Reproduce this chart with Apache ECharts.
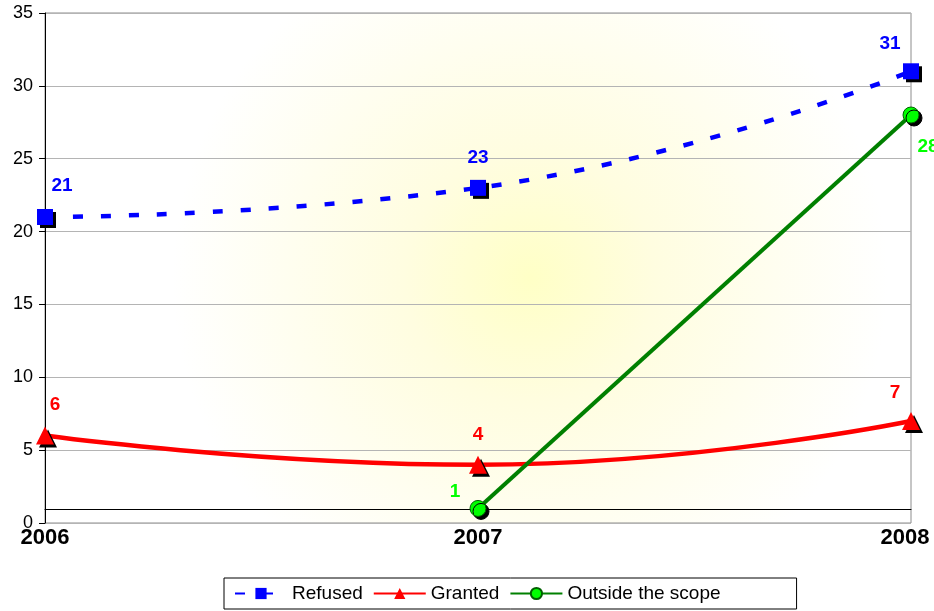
<!DOCTYPE html>
<html><head><meta charset="utf-8">
<script src="https://cdn.jsdelivr.net/npm/echarts@6/dist/echarts.min.js"></script>
<style>html,body{margin:0;padding:0;background:#fff}#c{width:934px;height:611px}</style>
</head><body><div id="c"></div>
<script>
const categories = ['2006', '2007', '2008'];
const refused = [21, 23, 31];
const granted = [6, 4, 7];
const outside = [null, 1, 28];
const yTicks = [0, 5, 10, 15, 20, 25, 30, 35];

const refusedOff = [[17, -31], [0, -30], [-21, -28]];
const grantedOff = [[10, -31], [0, -30], [-16, -28]];
const outsideOff = [[0, 0], [-23, -17], [17, 32]];

function mk(vals, offs) {
  return vals.map((v, i) => ({
    value: v,
    label: { offset: offs[i] }
  }));
}
const shadow = { shadowColor: '#000', shadowOffsetX: 3, shadowOffsetY: 3, shadowBlur: 0 };
const lbl = (c) => ({ show: true, position: 'inside', color: c, fontWeight: 'bold', fontSize: 19, fontFamily: 'Liberation Sans, Arial' });
const xl = { fontWeight: 'bold', fontSize: 22, color: '#000', fontFamily: 'Liberation Sans, Arial' };

const chart = echarts.init(document.getElementById('c'));
chart.setOption({
  animation: false,
  textStyle: { fontFamily: 'Liberation Sans, Arial' },
  grid: {
    left: 45, right: 23, top: 13, bottom: 88, show: true,
    outerBoundsMode: 'none', containLabel: false,
    borderColor: '#8c8c8c', borderWidth: 1,
    backgroundColor: {
      type: 'radial', x: 0.56, y: 0.52, r: 0.7,
      colorStops: [{ offset: 0, color: '#ffffc6' }, { offset: 0.35, color: '#fffde0' }, { offset: 1, color: '#ffffff' }]
    }
  },
  legend: {
    bottom: 2, left: 224,
    data: ['Refused', 'Granted', 'Outside the scope'],
    borderColor: '#000', borderWidth: 1, padding: [6, 76, 6, 10],
    itemWidth: 52, itemHeight: 14, itemGap: 10,
    textStyle: { fontSize: 19, color: '#000', fontFamily: 'Liberation Sans, Arial' }
  },
  xAxis: {
    type: 'category', data: categories, boundaryGap: false,
    offset: -14,
    axisLine: { onZero: false, lineStyle: { color: '#000', width: 1 } },
    axisTick: { show: false },
    axisLabel: Object.assign({
      margin: 18,
      formatter: (v, i) => i === categories.length - 1 ? '{e|' + v + '}' : '{n|' + v + '}',
      rich: { n: Object.assign({}, xl), e: Object.assign({ padding: [0, 12, 0, 0] }, xl) }
    }, xl),
    splitLine: { show: false }
  },
  yAxis: {
    type: 'value', min: 0, max: 35, interval: 5,
    axisLine: { show: true, lineStyle: { color: '#000' } },
    axisTick: { show: true, length: 6, lineStyle: { color: '#000' } },
    axisLabel: { fontSize: 18, color: '#000', margin: 12 },
    splitLine: { lineStyle: { color: '#b4b4b4', width: 1 } }
  },
  series: [
    {
      name: 'Refused', type: 'line', smooth: true,
      data: mk(refused, refusedOff),
      symbol: 'rect', symbolSize: 16,
      lineStyle: { color: '#0000ff', width: 4.5, type: [10, 18] },
      itemStyle: Object.assign({ color: '#0000ff' }, shadow),
      label: lbl('#0000ff'), z: 3
    },
    {
      name: 'Granted', type: 'line', smooth: true,
      data: mk(granted, grantedOff),
      symbol: 'triangle', symbolSize: 18,
      lineStyle: { color: '#ff0000', width: 4.5 },
      itemStyle: Object.assign({ color: '#ff0000' }, shadow),
      label: lbl('#ff0000'), z: 3
    },
    {
      name: 'Outside the scope', type: 'line', smooth: false, connectNulls: false,
      data: mk(outside, outsideOff),
      symbol: 'circle', symbolSize: 16,
      lineStyle: { color: '#008000', width: 4 },
      itemStyle: Object.assign({ color: '#00ff00', borderColor: '#006000', borderWidth: 1 }, shadow),
      label: lbl('#00ff00'), z: 4
    }
  ]
});
</script></body></html>
